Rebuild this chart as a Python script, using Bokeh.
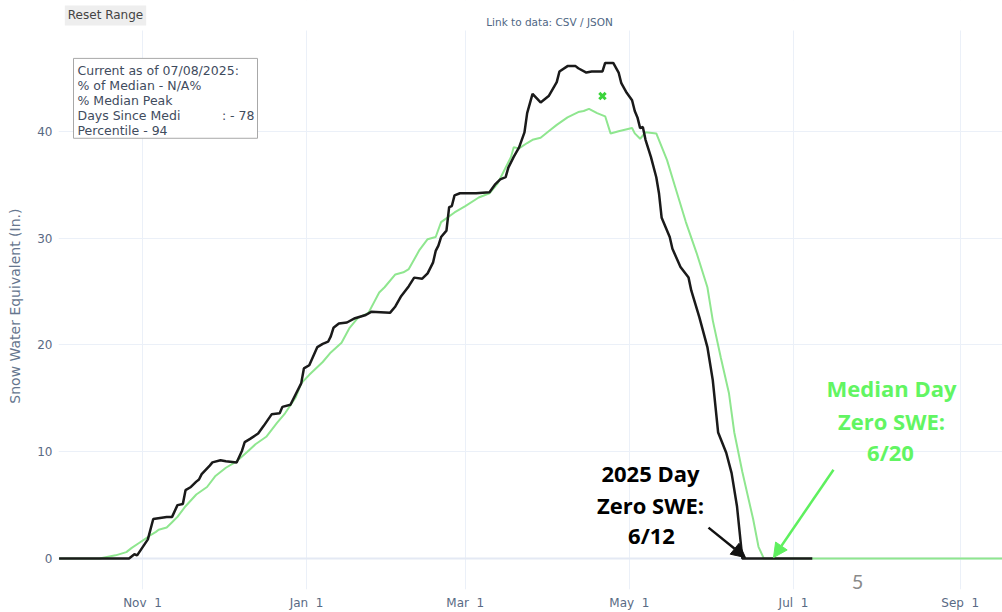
import pandas as pd
from bokeh.plotting import figure
from bokeh.models import (Range1d, FixedTicker, DatetimeTickFormatter, Label,
                          BoxAnnotation, Arrow, NormalHead, Span)
from bokeh.embed import file_html
from bokeh.resources import INLINE

# ---------------- data ----------------
black_dates = ["2024-10-01", "2024-10-27", "2024-10-29", "2024-10-30", "2024-11-03", "2024-11-05",
               "2024-11-10", "2024-11-12", "2024-11-14", "2024-11-16", "2024-11-17", "2024-11-19",
               "2024-11-21", "2024-11-22", "2024-11-23", "2024-11-26", "2024-11-27", "2024-11-30",
               "2024-12-02", "2024-12-06", "2024-12-08", "2024-12-09", "2024-12-11", "2024-12-14",
               "2024-12-16", "2024-12-19", "2024-12-22", "2024-12-23", "2024-12-26", "2024-12-28",
               "2024-12-30", "2024-12-31", "2025-01-02", "2025-01-05", "2025-01-07", "2025-01-09",
               "2025-01-10", "2025-01-11", "2025-01-13", "2025-01-16", "2025-01-19", "2025-01-23",
               "2025-01-25", "2025-02-01", "2025-02-03", "2025-02-05", "2025-02-08", "2025-02-10",
               "2025-02-13", "2025-02-15", "2025-02-17", "2025-02-18", "2025-02-19", "2025-02-20",
               "2025-02-22", "2025-02-23", "2025-02-24", "2025-02-25", "2025-02-27", "2025-03-05",
               "2025-03-10", "2025-03-12", "2025-03-14", "2025-03-16", "2025-03-17", "2025-03-19",
               "2025-03-21", "2025-03-23", "2025-03-24", "2025-03-26", "2025-03-29", "2025-04-01",
               "2025-04-04", "2025-04-05", "2025-04-08", "2025-04-11", "2025-04-12", "2025-04-15",
               "2025-04-17", "2025-04-21", "2025-04-22", "2025-04-25", "2025-04-27", "2025-04-28",
               "2025-04-30", "2025-05-02", "2025-05-03", "2025-05-04", "2025-05-05", "2025-05-06",
               "2025-05-07", "2025-05-09", "2025-05-11", "2025-05-12", "2025-05-13", "2025-05-16",
               "2025-05-17", "2025-05-20", "2025-05-23", "2025-05-24", "2025-05-27", "2025-05-30",
               "2025-06-01", "2025-06-03", "2025-06-06", "2025-06-08", "2025-06-10", "2025-06-12",
               "2025-07-08"]
black_swe = [0, 0, 0.4, 0.3, 1.8, 3.7,
             3.9, 3.9, 5.0, 5.1, 6.4, 6.7,
             7.2, 7.4, 7.9, 8.7, 9.0, 9.2,
             9.1, 9.0, 10.1, 10.9, 11.2, 11.7,
             12.4, 13.5, 13.6, 14.2, 14.4, 15.4,
             16.4, 17.8, 18.1, 19.8, 20.1, 20.3,
             20.8, 21.6, 22.0, 22.1, 22.5, 22.8,
             23.1, 23.0, 23.6, 24.5, 25.5, 26.3,
             26.2, 26.7, 27.7, 28.8, 29.3, 30.1,
             30.7, 32.9, 33.0, 34.0, 34.2, 34.2,
             34.3, 35.0, 35.5, 35.7, 36.6, 37.6,
             38.5, 39.9, 41.7, 43.5, 42.7, 43.3,
             44.6, 45.6, 46.1, 46.1, 45.9, 45.5,
             45.6, 45.6, 46.4, 46.4, 45.5, 44.5,
             43.6, 42.9, 41.9, 41.3, 40.3, 40.4,
             39.2, 37.6, 35.7, 34.2, 31.9, 30.1,
             29.0, 27.3, 26.3, 25.1, 22.6, 19.8,
             16.7, 11.8, 9.9, 8.0, 4.9, 0,
             0]

median_dates = ["2024-10-01", "2024-10-16", "2024-10-22", "2024-10-26", "2024-10-28", "2024-10-31",
                "2024-11-03", "2024-11-04", "2024-11-06", "2024-11-07", "2024-11-10", "2024-11-12",
                "2024-11-14", "2024-11-17", "2024-11-21", "2024-11-25", "2024-11-28", "2024-12-02",
                "2024-12-06", "2024-12-10", "2024-12-13", "2024-12-17", "2024-12-21", "2024-12-24",
                "2024-12-28", "2024-12-30", "2025-01-02", "2025-01-07", "2025-01-10", "2025-01-14",
                "2025-01-17", "2025-01-20", "2025-01-24", "2025-01-28", "2025-01-30", "2025-02-03",
                "2025-02-06", "2025-02-08", "2025-02-12", "2025-02-15", "2025-02-18", "2025-02-20",
                "2025-02-25", "2025-03-01", "2025-03-06", "2025-03-10", "2025-03-13", "2025-03-15",
                "2025-03-18", "2025-03-19", "2025-03-21", "2025-03-24", "2025-03-26", "2025-03-29",
                "2025-04-01", "2025-04-04", "2025-04-08", "2025-04-12", "2025-04-14", "2025-04-16",
                "2025-04-19", "2025-04-22", "2025-04-24", "2025-04-27", "2025-05-02", "2025-05-03",
                "2025-05-05", "2025-05-07", "2025-05-11", "2025-05-15", "2025-05-18", "2025-05-22",
                "2025-05-26", "2025-05-30", "2025-06-01", "2025-06-04", "2025-06-07", "2025-06-09",
                "2025-06-12", "2025-06-16", "2025-06-18", "2025-06-20", "2025-09-30"]
median_swe = [0, 0, 0.3, 0.6, 1.0, 1.5,
              2.0, 2.2, 2.5, 2.7, 2.9, 3.4,
              3.9, 4.9, 6.0, 6.7, 7.7, 8.5,
              9.1, 10.0, 10.7, 11.4, 12.7, 13.6,
              15.1, 16.4, 17.2, 18.4, 19.3, 20.2,
              21.6, 22.5, 23.0, 24.9, 25.4, 26.6,
              26.8, 27.1, 28.9, 29.9, 30.1, 31.5,
              32.4, 33.0, 33.8, 34.2, 35.1, 36.1,
              37.6, 38.5, 38.4, 38.9, 39.2, 39.4,
              40.0, 40.6, 41.3, 41.8, 41.9, 42.1,
              41.7, 41.4, 39.8, 40.0, 40.3, 39.8,
              39.3, 39.9, 39.8, 37.3, 34.8, 31.5,
              28.6, 25.4, 22.3, 18.8, 15.5, 11.8,
              8.1, 3.7, 1.1, 0, 0]

median_peak_date = ["2025-04-21"]
median_peak_swe = [43.3]

month_ticks = ["2024-11-01", "2025-01-01", "2025-03-01", "2025-05-01", "2025-07-01", "2025-09-01"]
swe_ticks = [0, 10, 20, 30, 40]

info_lines = ["Current as of 07/08/2025:", "% of Median - N/A%", "% Median Peak",
              "Days Since Medi", "Percentile - 94"]

# ---------------- helpers for placing annotations (reference pixel -> data) ----------------
ORIGIN_MS = pd.Timestamp("2024-10-01").value / 1e6
DAY_MS = 86400000.0


def X(px):
    return ORIGIN_MS + (px - 58.6) / 2.69 * DAY_MS


def Y(py):
    return (559.0 - py) / 10.7


TICK_COLOR = "#596a84"

p = figure(width=1002, height=612, output_backend="svg", toolbar_location=None,
           x_axis_type="datetime",
           x_range=Range1d(X(58), X(1002)), y_range=Range1d(Y(590), Y(0)),
           min_border_left=58, min_border_right=0, min_border_top=0, min_border_bottom=22)
p.background_fill_color = "white"
p.border_fill_color = "white"
p.outline_line_color = None

p.xaxis.ticker = FixedTicker(ticks=[pd.Timestamp(t).value / 1e6 for t in month_ticks])
p.xaxis.formatter = DatetimeTickFormatter(months="%b\u00a0%e", days="%b\u00a0%e", years="%b\u00a0%e")
p.yaxis.ticker = FixedTicker(ticks=swe_ticks)

for ax in (p.xaxis, p.yaxis):
    ax.axis_line_color = None
    ax.major_tick_line_color = None
    ax.minor_tick_line_color = None
    ax.major_tick_out = 0
    ax.major_tick_in = 0
    ax.minor_tick_out = 0
    ax.minor_tick_in = 0
    ax.major_label_text_font = "DejaVu Sans"
    ax.major_label_text_font_size = "12px"
    ax.major_label_text_color = TICK_COLOR
p.xaxis.major_label_standoff = 6
p.yaxis.major_label_standoff = 6

# trailing no-break spaces keep the label centred on the plotting area below the top strip
p.yaxis.axis_label = "Snow Water Equivalent (In.)" + "\u00a0" * 5
p.yaxis.axis_label_text_font = "DejaVu Sans"
p.yaxis.axis_label_text_font_size = "14px"
p.yaxis.axis_label_text_font_style = "normal"
p.yaxis.axis_label_text_color = "#66768e"
p.yaxis.axis_label_standoff = 11

p.xgrid.grid_line_color = "#ebf0f8"
p.ygrid.grid_line_color = "#ebf0f8"
p.add_layout(Span(location=0, dimension="width", line_color="#e4e9f4", line_width=2, level="underlay"))

# white strip above the plotting area (plotly's top margin)
p.add_layout(BoxAnnotation(left=X(0), right=X(1010), top=Y(-5), bottom=Y(30),
                           fill_color="white", fill_alpha=1.0, line_color=None, level="underlay"))

# ---------------- series ----------------
p.line(pd.to_datetime(median_dates), median_swe, line_color="#8fe68f", line_width=2)
p.line(pd.to_datetime(black_dates), black_swe, line_color="#1a1a1a", line_width=2.5)
p.scatter(pd.to_datetime(median_peak_date), median_peak_swe, marker="x", size=9,
          line_color="#3cd43c", line_width=3)

# ---------------- info box ----------------
p.add_layout(BoxAnnotation(left=X(73), right=X(257), top=Y(58), bottom=Y(138),
                           fill_color="white", fill_alpha=1.0,
                           line_color="#a8a8a8", line_width=1, line_alpha=1.0))
info_y = [70, 85, 100, 115, 130]
for txt, yy in zip(info_lines, info_y):
    p.add_layout(Label(x=X(77), y=Y(yy), text=txt, text_align="left", text_baseline="middle",
                       text_font="DejaVu Sans", text_font_size="12.5px", text_color="#3f4c5e"))
p.add_layout(Label(x=X(254), y=Y(115), text=": - 78", text_align="right", text_baseline="middle",
                   text_font="DejaVu Sans", text_font_size="12.5px", text_color="#3f4c5e"))

# ---------------- top items ----------------
p.add_layout(Label(x=X(105), y=Y(15), text="Reset Range", text_align="center", text_baseline="middle",
                   text_font="DejaVu Sans", text_font_size="12px", text_color="#444444",
                   background_fill_color="#eeeeee", padding=3))
p.add_layout(Label(x=X(549), y=Y(22), text="Link to data: CSV / JSON", text_align="center",
                   text_baseline="middle", text_font="DejaVu Sans", text_font_size="10.5px",
                   text_color="#506784"))

# ---------------- callouts ----------------
for txt, cx, cy in [("2025 Day", 650, 473), ("Zero SWE:", 650, 505), ("6/12", 651, 535)]:
    p.add_layout(Label(x=X(cx), y=Y(cy), text=txt, text_align="center", text_baseline="middle",
                       text_font="Open Sans", text_font_size="22px", text_font_style="bold",
                       text_color="#000000"))
GREEN_TXT = "#62f562"
for txt, cx, cy in [("Median Day", 891, 388), ("Zero SWE:", 891, 421), ("6/20", 890, 452)]:
    p.add_layout(Label(x=X(cx), y=Y(cy), text=txt, text_align="center", text_baseline="middle",
                       text_font="Open Sans", text_font_size="22px", text_font_style="bold",
                       text_color=GREEN_TXT))

p.add_layout(Arrow(end=NormalHead(size=14, fill_color="#111111", line_color="#111111"),
                   x_start=X(708), y_start=Y(528), x_end=X(745), y_end=Y(558),
                   line_color="#111111", line_width=2.5))
p.add_layout(Arrow(end=NormalHead(size=14, fill_color="#5ef05e", line_color="#5ef05e"),
                   x_start=X(833), y_start=Y(470), x_end=X(773), y_end=Y(558),
                   line_color="#5ef05e", line_width=2.5))

p.add_layout(Label(x=X(857), y=Y(582), text="5", text_align="center", text_baseline="middle",
                   text_font="Lato", text_font_size="20px", text_color="#8a8a8a"))

open("out.html", "w").write(file_html(p, INLINE))
